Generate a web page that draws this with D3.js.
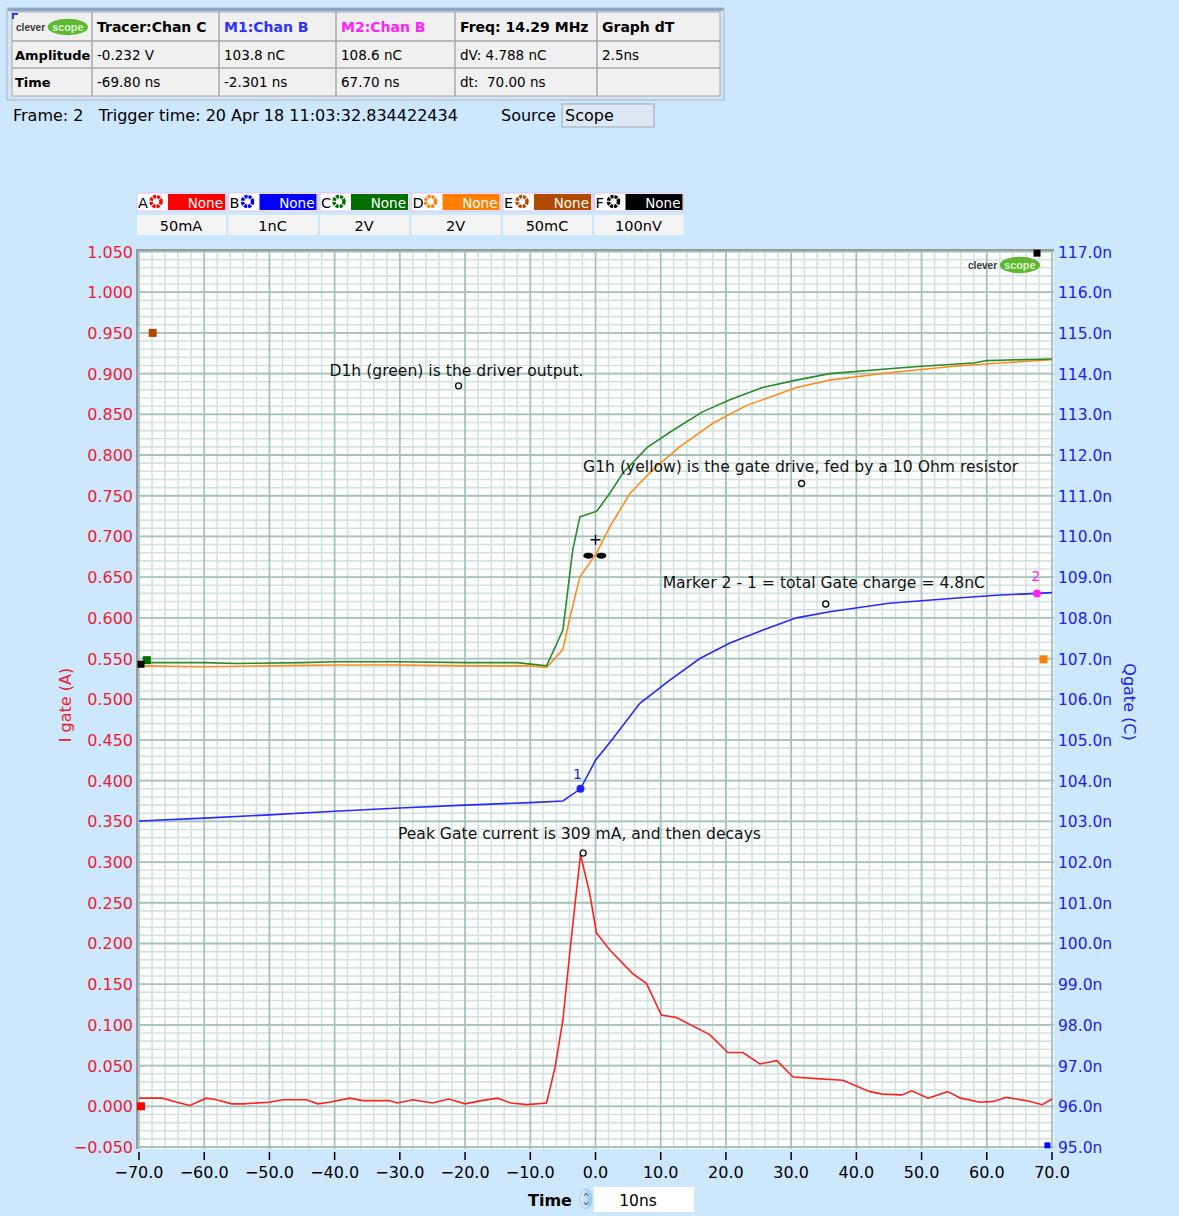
<!DOCTYPE html>
<html>
<head>
<meta charset="utf-8">
<script src="https://cdn.jsdelivr.net/npm/d3@7"></script>
<style>
  body { margin: 0; background: #cde8fd; }
  svg { display: block; font-family: "DejaVu Sans", Verdana, sans-serif; }
</style>
</head>
<body>
<svg id="chart" width="1179" height="1216"></svg>
<script>
// ---- Data ----
// time in ns, left axis in "I gate (A)" units, right axis in nC
var gateCurrent = [ // channel A, red
  [-70, 0.010], [-66.4, 0.010], [-64.2, 0.005], [-62.2, 0.001], [-59.7, 0.010], [-58.1, 0.008],
  [-55.8, 0.003], [-54.1, 0.003], [-50, 0.005], [-48, 0.008], [-44.3, 0.008], [-42.6, 0.003],
  [-40.8, 0.005], [-37.7, 0.010], [-35.7, 0.007], [-31.6, 0.007], [-30.4, 0.004], [-28, 0.008],
  [-25, 0.004], [-22.5, 0.009], [-20, 0.003], [-17.5, 0.007], [-15, 0.010], [-13, 0.004],
  [-10.5, 0.002], [-7.5, 0.004], [-6.2, 0.048], [-5.0, 0.106], [-3.9, 0.192], [-2.9, 0.266],
  [-2.3, 0.309], [-0.9, 0.262], [0.15, 0.213], [2.2, 0.192], [5.7, 0.163], [7.8, 0.151],
  [10.1, 0.112], [12.4, 0.109], [17.5, 0.088], [20.3, 0.066], [22.6, 0.066], [25.2, 0.052],
  [27.8, 0.056], [30.3, 0.036], [33.9, 0.034], [37.9, 0.032], [42.1, 0.018], [44, 0.015],
  [47, 0.014], [48.5, 0.019], [51, 0.010], [54, 0.018], [56, 0.010], [59, 0.005], [61, 0.006],
  [63, 0.011], [66, 0.007], [68.5, 0.002], [70, 0.009]
];

var driverOut = [ // channel C, green
  [-70, 0.545], [-60, 0.545], [-55, 0.544], [-45, 0.545], [-40, 0.546], [-30, 0.546],
  [-20, 0.545], [-12, 0.545], [-7.5, 0.541], [-5, 0.585], [-3.5, 0.683], [-2.4, 0.724],
  [0.2, 0.731], [2.2, 0.753], [4.2, 0.778], [7.9, 0.809], [11.4, 0.828], [16.4, 0.853],
  [20.6, 0.868], [25.6, 0.883], [30.8, 0.892], [35.9, 0.900], [45, 0.906], [50, 0.909],
  [58, 0.913], [60, 0.916], [70, 0.918]
];

var gateDrive = [ // channel D, orange
  [-70, 0.541], [-60, 0.540], [-50, 0.541], [-40, 0.542], [-30, 0.542], [-20, 0.541],
  [-10, 0.541], [-7.5, 0.539], [-5, 0.561], [-3.9, 0.601], [-2.4, 0.650], [0.2, 0.680],
  [2.2, 0.712], [5.3, 0.753], [8.8, 0.782], [12.9, 0.810], [18, 0.839], [23.2, 0.861],
  [26.7, 0.871], [30.8, 0.883], [35.9, 0.892], [45, 0.901], [55, 0.909], [62, 0.913],
  [70, 0.917]
];

var gateCharge = [ // channel B, blue, right axis (nC)
  [-70, 103.01], [-60, 103.08], [-50, 103.16], [-40, 103.25], [-30, 103.33], [-20, 103.40],
  [-10, 103.46], [-5, 103.50], [-2.3, 103.80], [0, 104.50], [2.5, 105.0], [6.8, 105.9],
  [11.4, 106.47], [16, 107.0], [20.6, 107.38], [25.7, 107.70], [30.8, 108.0], [35.9, 108.15],
  [45, 108.36], [55, 108.48], [62, 108.56], [67.7, 108.60], [70, 108.62]
];

var leftTicks = d3.range(-0.05, 1.0501, 0.05);
var rightTicks = d3.range(95, 117.01, 1);
var timeTicks = d3.range(-70, 70.01, 10);

var channels = ["A", "B", "C", "D", "E", "F"];
var channelColors = ["#ff0000", "#0000ff", "#006f00", "#ff8000", "#b04a00", "#000000"];
var channelScales = ["50mA", "1nC", "2V", "2V", "50mC", "100nV"];

var headerRow = ["", "Tracer:Chan C", "M1:Chan B", "M2:Chan B", "Freq: 14.29 MHz", "Graph dT"];
var headerColors = ["#000", "#000", "#3030ff", "#ff22ff", "#000", "#000"];
var amplitudeRow = ["Amplitude", "-0.232 V", "103.8 nC", "108.6 nC", "dV: 4.788 nC", "2.5ns"];
var timeRow = ["Time", "-69.80 ns", "-2.301 ns", "67.70 ns", "dt:  70.00 ns", ""];

// markers: [t, value]
var marker1 = [-2.3, 103.8];
var marker2 = [67.7, 108.6];
// little channel offset squares on the plot edge: [t, left-axis value, colour, size]
var edgeMarks = [
  [-67.9, 0.950, "#b04a00", 8], [67.7, 1.048, "#000000", 7], [-69.7, 0.000, "#ff0000", 8],
  [-68.8, 0.548, "#006f00", 8], [-69.7, 0.543, "#000000", 7], [68.7, 0.549, "#ff8000", 8],
  [69.3, -0.048, "#0000ff", 6]
];

var notes = [ // text, text t, text v, circle t, circle v
  ["D1h (green) is the driver output.", -40.8, 0.897, -21.0, 0.885],
  ["G1h (yellow) is the gate drive, fed by a 10 Ohm resistor", -1.9, 0.779, 31.6, 0.765],
  ["Marker 2 - 1 = total Gate charge = 4.8nC", 10.3, 0.637, 35.3, 0.617],
  ["Peak Gate current is 309 mA, and then decays", -30.3, 0.328, -1.9, 0.311]
];

// ---- Layout ----
var svg = d3.select("#chart");
svg.append("rect").attr("width", 1179).attr("height", 1216).attr("fill", "#cde8fd");

var x = d3.scaleLinear().domain([-70, 70]).range([139, 1052]);
var yL = d3.scaleLinear().domain([-0.05, 1.05]).range([1147, 251.5]);
var yR = d3.scaleLinear().domain([95, 117]).range([1147, 251.5]);

// ---- Top measurement table ----
var tableCols = [12, 92, 219, 336, 455, 597, 720];
var tableRows = [12, 41, 68, 96];
var tbl = svg.append("g");
tbl.append("rect").attr("x", 7).attr("y", 8).attr("width", 717).attr("height", 92)
  .attr("fill", "#d6e4f2").attr("stroke", "#9fb6cc");
tbl.append("rect").attr("x", 8).attr("y", 8).attr("width", 715).attr("height", 3).attr("fill", "#8aa6c4");
tbl.append("rect").attr("x", tableCols[0]).attr("y", tableRows[0])
  .attr("width", tableCols[6] - tableCols[0]).attr("height", tableRows[3] - tableRows[0])
  .attr("fill", "#f0f0f0").attr("stroke", "#a8a8a8");
tableCols.slice(1, 6).forEach(function (c) {
  tbl.append("line").attr("x1", c).attr("x2", c).attr("y1", tableRows[0]).attr("y2", tableRows[3])
    .attr("stroke", "#a8a8a8").attr("stroke-width", 1.5);
});
tableRows.slice(1, 3).forEach(function (r) {
  tbl.append("line").attr("x1", tableCols[0]).attr("x2", tableCols[6]).attr("y1", r).attr("y2", r)
    .attr("stroke", "#a8a8a8").attr("stroke-width", 1.5);
});
tbl.append("path").attr("d", "M13,19 V14 H18").attr("stroke", "#2040ff").attr("stroke-width", 2).attr("fill", "none");

function addRow(cells, baseline, boldFirst, colors, allBold) {
  cells.forEach(function (txt, i) {
    if (!txt) return;
    tbl.append("text")
      .attr("x", tableCols[i] + (i === 0 ? 3 : 5)).attr("y", baseline)
      .attr("font-size", (allBold || (boldFirst && i === 0)) ? (i === 0 ? 13 : 14) : 13.5)
      .attr("font-weight", (allBold || (boldFirst && i === 0)) ? "bold" : "normal")
      .attr("fill", colors ? colors[i] : "#000")
      .style("white-space", "pre")
      .text(txt);
  });
}
addRow(headerRow, 32, false, headerColors, true);
addRow(amplitudeRow, 60, true, null, false);
addRow(timeRow, 87, true, null, false);

function drawLogo(g, lx, ly, w) {
  // "clever" in grey, "scope" on a green lozenge; w = overall width
  g.append("text").attr("x", lx).attr("y", ly + 3.5).attr("font-size", w * 0.14)
    .attr("font-family", "Liberation Sans, Arial, sans-serif").attr("font-weight", "bold")
    .attr("fill", "#3a3a3a").text("clever");
  g.append("ellipse").attr("cx", lx + w * 0.72).attr("cy", ly).attr("rx", w * 0.28).attr("ry", w * 0.115)
    .attr("fill", "#5fb832");
  g.append("text").attr("x", lx + w * 0.72).attr("y", ly + 3.5).attr("text-anchor", "middle")
    .attr("font-size", w * 0.15).attr("font-family", "Liberation Sans, Arial, sans-serif")
    .attr("font-weight", "bold").attr("fill", "#d8f5c8").text("scope");
}
drawLogo(tbl, 16, 27, 72);

// frame / trigger line
svg.append("text").attr("x", 13).attr("y", 121).attr("font-size", 16).style("white-space", "pre")
  .text("Frame: 2   Trigger time: 20 Apr 18 11:03:32.834422434");
svg.append("text").attr("x", 501).attr("y", 121).attr("font-size", 16).text("Source");
svg.append("rect").attr("x", 562).attr("y", 104).attr("width", 92).attr("height", 23)
  .attr("fill", "#dce8f4").attr("stroke", "#9aa8b6");
svg.append("text").attr("x", 565).attr("y", 121).attr("font-size", 16).text("Scope");

// ---- Channel legend ----
var leg = svg.append("g");
channels.forEach(function (ch, i) {
  var lx = 137 + i * 91.5;
  leg.append("rect").attr("x", lx).attr("y", 193).attr("width", 89).attr("height", 18)
    .attr("fill", "#ffffff").attr("stroke", "#e2c2f2");
  leg.append("text").attr("x", lx + 1).attr("y", 208).attr("font-size", 14.5).text(ch);
  leg.append("circle").attr("cx", lx + 19).attr("cy", 201.5).attr("r", 5)
    .attr("fill", "#fff").attr("stroke", channelColors[i]).attr("stroke-width", 3.5)
    .attr("stroke-dasharray", "3 1");
  leg.append("rect").attr("x", lx + 31).attr("y", 194).attr("width", 57).attr("height", 16)
    .attr("fill", channelColors[i]);
  leg.append("text").attr("x", lx + 86).attr("y", 207.5).attr("text-anchor", "end")
    .attr("font-size", 13.5).attr("fill", "#fff").text("None");
  leg.append("rect").attr("x", lx).attr("y", 215).attr("width", 89).attr("height", 20)
    .attr("fill", "#f4f4f4");
  leg.append("text").attr("x", lx + 44).attr("y", 231).attr("text-anchor", "middle")
    .attr("font-size", 14.5).text(channelScales[i]);
});

// ---- Plot area & grid ----
var plot = svg.append("g");
plot.append("rect").attr("x", 137).attr("y", 250).attr("width", 917).attr("height", 899).attr("fill", "#fff");

var minorX = d3.range(-70, 70.01, 2).filter(function (t) { return Math.abs(t % 10) > 0.01; });
var minorY = d3.range(-0.05, 1.0501, 0.01);
plot.selectAll("line.minx").data(minorX).enter().append("line")
  .attr("x1", x).attr("x2", x).attr("y1", 251).attr("y2", 1149)
  .attr("stroke", "#d3e4e0").attr("stroke-width", 1.6);
plot.selectAll("line.miny").data(minorY).enter().append("line")
  .attr("x1", 137).attr("x2", 1054).attr("y1", yL).attr("y2", yL)
  .attr("stroke", "#d3e4e0").attr("stroke-width", 1.6);
plot.selectAll("line.majx").data(timeTicks).enter().append("line")
  .attr("x1", x).attr("x2", x).attr("y1", 251).attr("y2", 1149)
  .attr("stroke", "#a3c3bc").attr("stroke-width", 1.8);
plot.selectAll("line.majy").data(leftTicks).enter().append("line")
  .attr("x1", 137).attr("x2", 1054).attr("y1", yL).attr("y2", yL)
  .attr("stroke", "#a3c3bc").attr("stroke-width", 1.8);
plot.append("path").attr("d", "M137,1149 V250 H1054").attr("fill", "none")
  .attr("stroke", "#9a9a9a").attr("stroke-width", 2);

drawLogo(plot, 968, 265, 72);

// ---- Axes labels ----
svg.selectAll("text.yl").data(leftTicks).enter().append("text")
  .attr("x", 133).attr("y", function (d) { return yL(d) + 6; })
  .attr("text-anchor", "end").attr("font-size", 16).attr("fill", "#ee1c2e")
  .text(function (d) { return d3.format(".3f")(d); });
svg.selectAll("text.yr").data(rightTicks).enter().append("text")
  .attr("x", 1058).attr("y", function (d) { return yR(d) + 6; })
  .attr("font-size", 15.5).attr("fill", "#2020f0")
  .text(function (d) { return d3.format(".1f")(d) + "n"; });
svg.selectAll("line.xt").data(timeTicks).enter().append("line")
  .attr("x1", x).attr("x2", x).attr("y1", 1152).attr("y2", 1160)
  .attr("stroke", "#000").attr("stroke-width", 1.5);
svg.selectAll("text.xt").data(timeTicks).enter().append("text")
  .attr("x", x).attr("y", 1178).attr("text-anchor", "middle").attr("font-size", 16)
  .text(function (d) { return d3.format(".1f")(d); });

svg.append("text").attr("transform", "translate(71,705) rotate(-90)")
  .attr("text-anchor", "middle").attr("font-size", 16).attr("fill", "#ee1c2e").text("I gate (A)");
svg.append("text").attr("transform", "translate(1124,702) rotate(90)")
  .attr("text-anchor", "middle").attr("font-size", 16).attr("fill", "#2020f0").text("Qgate (C)");

svg.append("text").attr("x", 528).attr("y", 1206).attr("font-size", 16).attr("font-weight", "bold").text("Time");
var spinGrad = svg.append("defs").append("linearGradient").attr("id", "spin").attr("x1", 0).attr("x2", 1);
spinGrad.append("stop").attr("offset", "0").attr("stop-color", "#e8f4ff");
spinGrad.append("stop").attr("offset", "1").attr("stop-color", "#8ec4ee");
svg.append("ellipse").attr("cx", 586).attr("cy", 1199).attr("rx", 6).attr("ry", 10)
  .attr("fill", "url(#spin)").attr("stroke", "#a8c8e6");
svg.append("path").attr("d", "M584,1196 l2,-3 l2,3 M584,1202 l2,3 l2,-3").attr("stroke", "#557").attr("fill", "none");
svg.append("rect").attr("x", 594).attr("y", 1187).attr("width", 100).attr("height", 25).attr("fill", "#fff");
svg.append("text").attr("x", 638).attr("y", 1206).attr("text-anchor", "middle").attr("font-size", 15.5).text("10ns");

// ---- Traces ----
var lineL = d3.line().x(function (d) { return x(d[0]); }).y(function (d) { return yL(d[1]); });
var lineR = d3.line().x(function (d) { return x(d[0]); }).y(function (d) { return yR(d[1]); });

plot.append("path").datum(gateDrive).attr("d", lineL).attr("fill", "none")
  .attr("stroke", "#ff8c1a").attr("stroke-width", 1.6);
plot.append("path").datum(driverOut).attr("d", lineL).attr("fill", "none")
  .attr("stroke", "#2a8a2a").attr("stroke-width", 1.6);
plot.append("path").datum(gateCharge).attr("d", lineR).attr("fill", "none")
  .attr("stroke", "#2828ff").attr("stroke-width", 1.6);
plot.append("path").datum(gateCurrent).attr("d", lineL).attr("fill", "none")
  .attr("stroke", "#ff2020").attr("stroke-width", 1.6);

// edge squares
plot.selectAll("rect.em").data(edgeMarks).enter().append("rect")
  .attr("x", function (d) { return x(d[0]) - d[3] / 2; })
  .attr("y", function (d) { return yL(d[1]) - d[3] / 2; })
  .attr("width", function (d) { return d[3]; }).attr("height", function (d) { return d[3]; })
  .attr("fill", function (d) { return d[2]; });

// markers 1 and 2
plot.append("circle").attr("cx", x(marker1[0])).attr("cy", yR(marker1[1])).attr("r", 4).attr("fill", "#2020ff");
plot.append("text").attr("x", x(marker1[0]) - 3).attr("y", yR(marker1[1]) - 10)
  .attr("text-anchor", "middle").attr("font-size", 14).attr("fill", "#2020ff").text("1");
plot.append("circle").attr("cx", x(marker2[0])).attr("cy", yR(marker2[1])).attr("r", 4).attr("fill", "#ff22ff");
plot.append("text").attr("x", x(marker2[0]) - 1).attr("y", yR(marker2[1]) - 12)
  .attr("text-anchor", "middle").attr("font-size", 14).attr("fill", "#ff22ff").text("2");

// tracer cross and handles
var tx = x(0), ty = yL(0.696);
plot.append("path").attr("d", "M" + (tx - 5) + "," + ty + " h10 M" + tx + "," + (ty - 5) + " v10")
  .attr("stroke", "#000").attr("stroke-width", 1.4);
plot.append("ellipse").attr("cx", x(-1.1)).attr("cy", ty + 16).attr("rx", 5).attr("ry", 3).attr("fill", "#000");
plot.append("ellipse").attr("cx", x(0.9)).attr("cy", ty + 16).attr("rx", 5).attr("ry", 3).attr("fill", "#000");

// annotations
notes.forEach(function (n) {
  plot.append("text").attr("x", x(n[1])).attr("y", yL(n[2])).attr("font-size", 15.6).attr("fill", "#111").text(n[0]);
  plot.append("circle").attr("cx", x(n[3])).attr("cy", yL(n[4])).attr("r", 3)
    .attr("fill", "#fff").attr("stroke", "#111").attr("stroke-width", 1.4);
});
</script>
</body>
</html>
